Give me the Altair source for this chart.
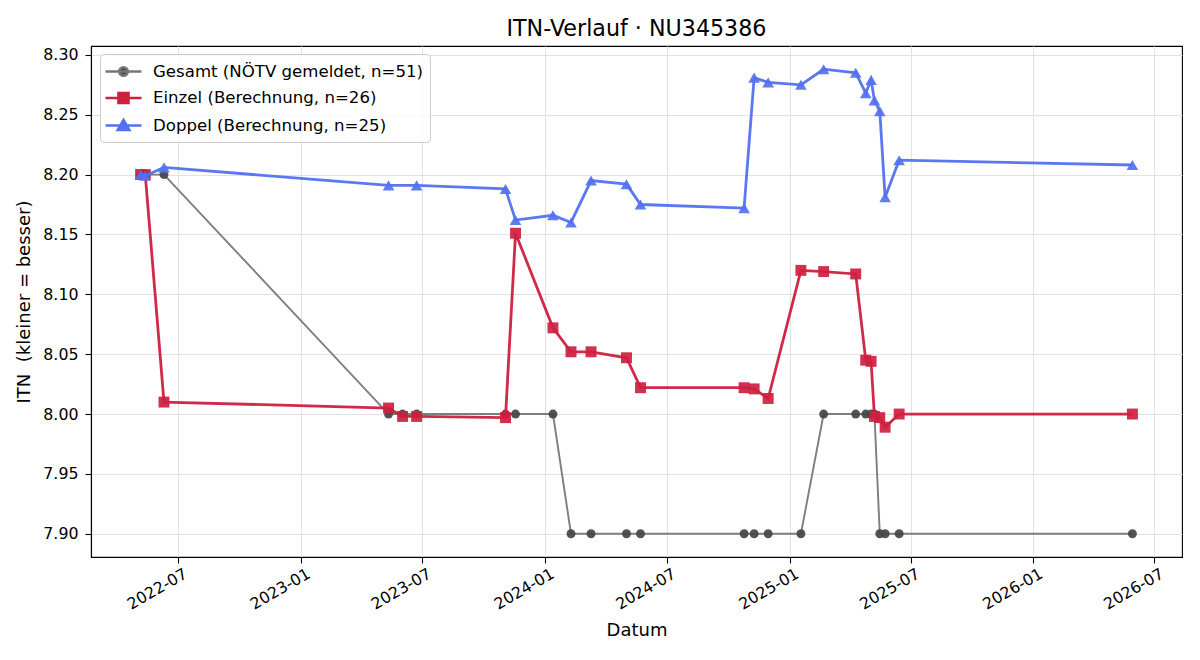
import altair as alt
import numpy as np
import pandas as pd

# Measurement dates (shared by Gesamt and Einzel)
dates = [
    "2022-05-06", "2022-05-13", "2022-06-10", "2023-05-12", "2023-06-02",
    "2023-06-23", "2023-11-03", "2023-11-18", "2024-01-13", "2024-02-09",
    "2024-03-10", "2024-05-02", "2024-05-23", "2024-10-25", "2024-11-09",
    "2024-11-30", "2025-01-18", "2025-02-21", "2025-04-10", "2025-04-25",
    "2025-05-03", "2025-05-08", "2025-05-16", "2025-05-24", "2025-06-14",
    "2026-05-29",
]

# ITN reported by the federation
gesamt = [
    8.20, 8.20, 8.20, 8.00, 8.00, 8.00, 8.00, 8.00, 8.00, 7.90,
    7.90, 7.90, 7.90, 7.90, 7.90, 7.90, 7.90, 8.00, 8.00, 8.00,
    8.00, 8.00, 7.90, 7.90, 7.90, 7.90,
]

# Calculated singles ITN
einzel = [
    8.200, 8.200, 8.010, 8.005, 7.998, 7.998, 7.997, 8.151, 8.072, 8.052,
    8.052, 8.047, 8.022, 8.022, 8.021, 8.013, 8.120, 8.119, 8.117, 8.045,
    8.044, 7.998, 7.997, 7.989, 8.000, 8.000,
]

# Calculated doubles ITN (no doubles on 2023-06-02)
doppel_dates = [
    "2022-05-06", "2022-05-13", "2022-06-10", "2023-05-12", "2023-06-23",
    "2023-11-03", "2023-11-18", "2024-01-13", "2024-02-09", "2024-03-10",
    "2024-05-02", "2024-05-23", "2024-10-25", "2024-11-09", "2024-11-30",
    "2025-01-18", "2025-02-21", "2025-04-10", "2025-04-25", "2025-05-03",
    "2025-05-08", "2025-05-16", "2025-05-24", "2025-06-14", "2026-05-29",
]
doppel = [
    8.200, 8.199, 8.206, 8.191, 8.191, 8.188, 8.162, 8.166, 8.160, 8.195,
    8.192, 8.175, 8.172, 8.281, 8.277, 8.275, 8.288, 8.285, 8.268, 8.279,
    8.262, 8.253, 8.181, 8.212, 8.208,
]

series_names = [
    "Gesamt (NÖTV gemeldet, n=51)",
    "Einzel (Berechnung, n=26)",
    "Doppel (Berechnung, n=25)",
]

df = pd.concat([
    pd.DataFrame({"datum": dates, "itn": gesamt, "series": series_names[0]}),
    pd.DataFrame({"datum": dates, "itn": einzel, "series": series_names[1]}),
    pd.DataFrame({"datum": doppel_dates, "itn": doppel, "series": series_names[2]}),
], ignore_index=True)

# Axis ranges with a 5 % margin around the data
t = pd.to_datetime(df["datum"])
t_span = t.max() - t.min()
t_lo = (t.min() - 0.05 * t_span).value // 10**6
t_hi = (t.max() + 0.05 * t_span).value // 10**6
y_span = df["itn"].max() - df["itn"].min()
y_lo = df["itn"].min() - 0.05 * y_span
y_hi = df["itn"].max() + 0.05 * y_span

x_ticks = [alt.DateTime(year=y, month=m, date=1, utc=True)
           for y, m in [(2022, 7), (2023, 1), (2023, 7), (2024, 1), (2024, 7),
                        (2025, 1), (2025, 7), (2026, 1), (2026, 7)]]
y_ticks = [round(v, 2) for v in np.arange(7.90, 8.301, 0.05)]

FONT = "DejaVu Sans"

x_enc = alt.X(
    "datum:T",
    scale=alt.Scale(type="utc", domain=[int(t_lo), int(t_hi)]),
    axis=alt.Axis(values=x_ticks, labelExpr="utcFormat(datum.value, '%Y-%m')",
                  labelAngle=330, labelAlign="right", labelBaseline="top",
                  labelPadding=3, labelOffset=4, title="Datum", titlePadding=10),
)
y_enc = alt.Y(
    "itn:Q",
    scale=alt.Scale(domain=[y_lo, y_hi], nice=False, zero=False),
    axis=alt.Axis(values=y_ticks, format=".2f", labelPadding=7,
                  title="ITN\u00a0 (kleiner = besser)", titlePadding=9),
)

base = alt.Chart(df).encode(x=x_enc, y=y_enc)

# name, line colour, marker colour, marker shape, marker size, line width
styles = [
    (series_names[0], "#777777", "#444444", "circle", 80, 1.9),
    (series_names[1], "#cd1f3f", "#cd1f3f", "square", 120, 2.8),
    (series_names[2], "#5271f0", "#5271f0", "triangle-up", 135, 2.8),
]
line_colors = [s[1] for s in styles]
marker_colors = [s[2] for s in styles]

layers = []
for name, line_col, mk_col, shape, size, lw in styles:
    sub = base.transform_filter(alt.datum.series == name)
    layers.append(sub.mark_line(color=line_col, strokeWidth=lw, opacity=0.95))
    layers.append(sub.mark_point(shape=shape, filled=True, size=size,
                                 color=mk_col, opacity=0.92))

# Legend symbols: a short line with the series marker on it
legend_paths = [
    "M-1.8,0L1.8,0M-0.42,0A0.42,0.42,0,1,0,0.42,0A0.42,0.42,0,1,0,-0.42,0Z",
    "M-1.8,0L1.8,0M-0.5,-0.5L0.5,-0.5L0.5,0.5L-0.5,0.5Z",
    "M-1.8,0L1.8,0M0,-0.55L0.58,0.45L-0.58,0.45Z",
]
legend = alt.Legend(
    title=None, orient="none", legendX=9, legendY=8,
    labelFont=FONT, labelFontSize=16.6, labelColor="black", labelLimit=400,
    symbolSize=400, symbolStrokeWidth=2.6, symbolOpacity=1,
    symbolOffset=6, labelOffset=18, rowPadding=5.5, padding=6,
    fillColor="rgba(255,255,255,0.8)", strokeColor="#cccccc", cornerRadius=4,
)
legend_layer = base.transform_filter("false").mark_point(filled=True, opacity=1).encode(
    color=alt.Color("series:N", scale=alt.Scale(domain=series_names,
                    range=marker_colors), legend=legend),
    stroke=alt.Stroke("series:N", scale=alt.Scale(domain=series_names,
                      range=line_colors), legend=legend),
    shape=alt.Shape("series:N", scale=alt.Scale(domain=series_names,
                    range=legend_paths), legend=legend),
)

chart = alt.layer(*layers, legend_layer).properties(
    width=1091, height=511,
    title=alt.TitleParams("ITN-Verlauf · NU345386", font=FONT, fontSize=22.2,
                          fontWeight="normal", color="black", anchor="middle",
                          offset=6),
    padding={"left": 91, "top": 46, "right": 18, "bottom": 103},
    autosize=alt.AutoSizeParams(type="none"),
).configure_view(
    stroke="black", strokeWidth=1.1
).configure_axis(
    labelFont=FONT, labelFontSize=15.8, labelColor="black",
    titleFont=FONT, titleFontSize=18, titleFontWeight="normal", titleColor="black",
    tickColor="black", tickSize=6, tickWidth=1.1,
    domainColor="black", domainWidth=1.1,
    grid=True, gridColor="#e2e2e2", gridWidth=1,
)

chart.save("out.html", embed_options={"renderer": "svg", "actions": False})
